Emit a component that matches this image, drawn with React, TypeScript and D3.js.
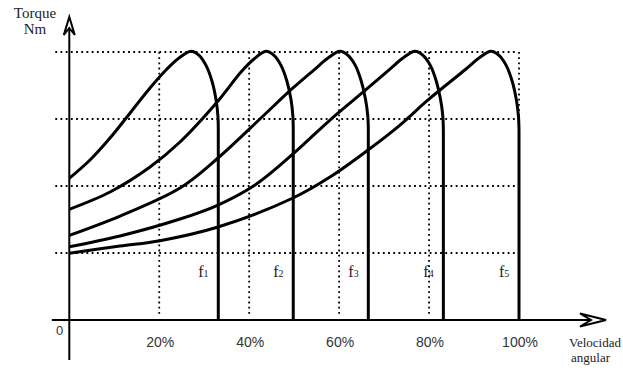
import React from "react";
import * as d3 from "d3";

// ---- data (speed in % of nominal, torque in grid units) ----
const X_TICKS = [20, 40, 60, 80, 100];
const X_TICK_LABELS = ["20%", "40%", "60%", "80%", "100%"];
const Y_GRID = [1, 2, 3, 4];
const CURVE_LABELS = ["1", "2", "3", "4", "5"];

const F1: [number, number][] = [
  [0, 2.115], [4.6, 2.388], [9.05, 2.716], [17.95, 3.463], [21.5, 3.731], [24.39, 3.91], [27.07, 4.01],
  [28.85, 3.95], [30.4, 3.8], [31.75, 3.56], [32.62, 3.29], [33.05, 3.04], [33.13, 2.82],
];
const F2: [number, number][] = [
  [0, 1.652], [9.05, 1.91], [17.95, 2.284], [24.62, 2.657], [33.07, 3.269], [38.18, 3.701], [41.07, 3.896],
  [43.74, 4.01],
  [45.52, 3.95], [47.08, 3.8], [48.41, 3.56], [49.3, 3.29], [49.72, 3.04], [49.8, 2.82],
];
const F3: [number, number][] = [
  [0, 1.264], [11.27, 1.552], [24.62, 1.97], [33.07, 2.418], [42.39, 3.0], [49.74, 3.463], [54.64, 3.746],
  [57.53, 3.91], [60.19, 4.01],
  [61.97, 3.95], [63.6, 3.8], [64.95, 3.56], [65.88, 3.29], [66.38, 3.04], [66.49, 2.82],
];
const F4: [number, number][] = [
  [0, 1.094], [11.27, 1.254], [24.62, 1.507], [33.07, 1.716], [41.3, 2.015], [49.74, 2.478], [57.97, 2.985],
  [66.42, 3.463], [71.31, 3.746], [74.2, 3.91], [76.87, 4.01],
  [78.65, 3.95], [80.28, 3.8], [81.63, 3.56], [82.56, 3.29], [83.06, 3.04], [83.18, 2.82],
];
const F5: [number, number][] = [
  [0, 0.996], [11.27, 1.104], [20.17, 1.184], [33.07, 1.388], [49.74, 1.821], [57.97, 2.134], [66.42, 2.537],
  [73.54, 2.91], [79.77, 3.284], [88.22, 3.746], [91.11, 3.91], [93.77, 4.01],
  [95.55, 3.95], [97.15, 3.8], [98.5, 3.56], [99.4, 3.29], [99.88, 3.04], [100, 2.82],
];
const CURVES = [F1, F2, F3, F4, F5];

const W = 623;
const H = 372;
const SERIF = "Liberation Serif";
const SANS = "Liberation Sans";

export default function App() {
  const x = d3.scaleLinear().domain([0, 100]).range([69.3, 519]);
  const y = d3.scaleLinear().domain([0, 4]).range([320, 52]);
  const line = d3
    .line<[number, number]>()
    .x((d) => x(d[0]))
    .y((d) => y(d[1]))
    .curve(d3.curveCatmullRom.alpha(0.5));

  const x0 = x(0);
  const y0 = y(0);
  const dotted = { stroke: "#000", strokeWidth: 1.8, strokeDasharray: "1.8 3.4", fill: "none" };

  return (
    <svg
      width={W}
      height={H}
      viewBox={`0 0 ${W} ${H}`}
      style={{ position: "absolute", left: 0, top: 0, background: "#fff" }}
    >
      <rect width={W} height={H} fill="#fff" />
      {/* horizontal dotted grid */}
      {Y_GRID.map((g) => (
        <line key={"h" + g} x1={x0 - 14} x2={x(100) - 4} y1={y(g)} y2={y(g)} {...dotted} />
      ))}
      {/* vertical dotted grid */}
      {X_TICKS.map((t) => (
        <line key={"v" + t} x1={x(t)} x2={x(t)} y1={y(4)} y2={y0 - 3} {...dotted} />
      ))}

      {/* torque curves */}
      {CURVES.map((pts, i) => {
        const last = pts[pts.length - 1];
        const d = (line(pts) || "") + `L${x(last[0])},${y0}`;
        return <path key={"c" + i} d={d} fill="none" stroke="#000" strokeWidth={3} strokeLinejoin="round" />;
      })}

      {/* axes */}
      <line x1={x0 - 17.5} x2={600} y1={y0} y2={y0} stroke="#000" strokeWidth={2} />
      <line x1={x0} x2={x0} y1={360} y2={22} stroke="#000" strokeWidth={2} />
      <path
        d={`M${x0 - 5.5},${35} L${x0},${17} L${x0 + 5.5},${35} L${x0},${28} Z`}
        fill="#fff"
        stroke="#000"
        strokeWidth={2}
        strokeLinejoin="miter"
      />
      <path
        d={`M${580},${y0 - 6.5} L${606},${y0} L${580},${y0 + 6.5} L${591},${y0} Z`}
        fill="#fff"
        stroke="#000"
        strokeWidth={2}
      />

      {/* curve labels */}
      {CURVES.map((pts, i) => {
        const last = pts[pts.length - 1];
        return (
          <text key={"l" + i} x={x(last[0]) - 20} y={277} fontFamily={SERIF} fontSize={16} fill="#222">
            f
            <tspan fontSize={10}>{CURVE_LABELS[i]}</tspan>
          </text>
        );
      })}

      {/* tick labels */}
      {X_TICKS.map((t, i) => (
        <text key={"t" + t} x={x(t) + 1} y={347} textAnchor="middle" fontFamily={SANS} fontSize={14} fill="#333">
          {X_TICK_LABELS[i]}
        </text>
      ))}
      <text x={59.5} y={335} textAnchor="middle" fontFamily={SANS} fontSize={13} fill="#333">
        0
      </text>

      {/* axis titles */}
      <text x={35} y={18} textAnchor="middle" fontFamily={SERIF} fontSize={15} fill="#222">
        Torque
      </text>
      <text x={35} y={34} textAnchor="middle" fontFamily={SERIF} fontSize={15} fill="#222">
        Nm
      </text>
      <text x={569} y={347} fontFamily={SERIF} fontSize={13} fill="#222">
        Velocidad
      </text>
      <text x={571} y={362} fontFamily={SERIF} fontSize={13} fill="#222">
        angular
      </text>
    </svg>
  );
}
